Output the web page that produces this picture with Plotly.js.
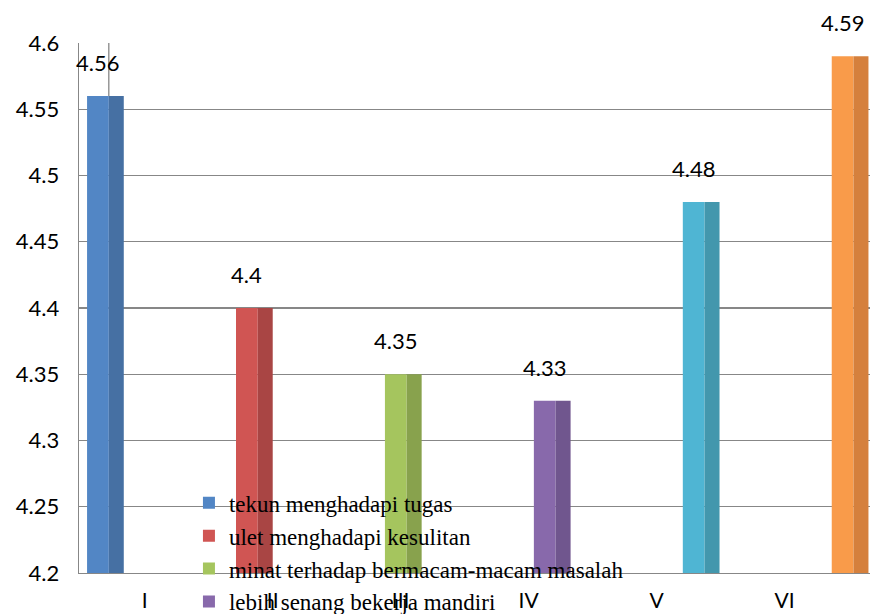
<!DOCTYPE html>
<html>
<head>
<meta charset="utf-8">
<script src="https://cdn.plot.ly/plotly-3.0.1.min.js"></script>
<style>html,body{margin:0;padding:0;background:#fff;}#chart{width:870px;height:614px;}</style>
</head>
<body>
<div id="chart"></div>
<script>
// ---- data ----
const categories = ['I', 'II', 'III', 'IV', 'V', 'VI'];
const seriesNames = [
  'tekun menghadapi tugas',
  'ulet menghadapi kesulitan',
  'minat terhadap bermacam-macam masalah',
  'lebih senang bekerja mandiri',
  'V',
  'VI'
];
const values = [4.56, 4.40, 4.35, 4.33, 4.48, 4.59];
const yTickVals = [4.2, 4.25, 4.3, 4.35, 4.4, 4.45, 4.5, 4.55, 4.6];
const yTickText = ['4.2', '4.25', '4.3', '4.35', '4.4', '4.45', '4.5', '4.55', '4.6'];

// ---- style ----
const lightColors = ['#5286C5', '#D05553', '#A5C55E', '#8869AB', '#4FB5D3', '#F99B4A'];
const darkColors  = ['#4670A3', '#A94544', '#88A24D', '#70568E', '#4397AD', '#D5803D'];
const slotStart = -0.451, slotStep = 0.164, lightW = 0.170, darkW = 0.117;
const gridCol = '#878787';

const traces = [];
const annotations = [];
values.forEach((v, i) => {
  const off = slotStart + i * slotStep;
  traces.push({
    type: 'bar', x: [categories[i]], y: [v], name: seriesNames[i],
    offset: off, width: lightW,
    marker: {color: lightColors[i], line: {width: 0}},
    showlegend: i < 4, hoverinfo: 'skip'
  });
  traces.push({
    type: 'bar', x: [categories[i]], y: [v], name: seriesNames[i],
    offset: off + lightW, width: darkW,
    marker: {color: darkColors[i], line: {width: 0}},
    showlegend: false, hoverinfo: 'skip'
  });
  annotations.push({
    xref: 'x', yref: 'y', x: i + off + lightW / 2, y: v,
    text: String(v), showarrow: false, yanchor: 'bottom', yshift: 18,
    font: {family: 'Lato, sans-serif', size: 22, color: '#000'}
  });
});

const shapes = [{
  type: 'line', xref: 'x', yref: 'y', layer: 'below',
  x0: 0 + slotStart + lightW, x1: 0 + slotStart + lightW,
  y0: values[0], y1: yTickVals[yTickVals.length - 1],
  line: {color: gridCol, width: 1.3}
}];

const layout = {
  width: 870, height: 614,
  margin: {l: 79, r: 0, t: 43, b: 41, autoexpand: false},
  paper_bgcolor: '#fff', plot_bgcolor: '#fff',
  barmode: 'overlay',
  showlegend: true,
  legend: {
    x: 0.139, y: 0.173, xanchor: 'left', yanchor: 'top',
    bgcolor: 'rgba(0,0,0,0)', borderwidth: 0,
    font: {family: '"Liberation Serif", "Times New Roman", serif', size: 23, color: '#000'},
    tracegroupgap: 0
  },
  xaxis: {
    type: 'category', categoryarray: categories, categoryorder: 'array',
    range: [-0.514, 5.668], automargin: false,
    showgrid: false, showline: true, linecolor: gridCol, linewidth: 1.3,
    ticks: '', ticklabelstandoff: 8,
    tickfont: {family: 'Lato, sans-serif', size: 21, color: '#000'},
    fixedrange: true
  },
  yaxis: {
    range: [4.2, 4.6], tickvals: yTickVals, ticktext: yTickText, automargin: false,
    showgrid: true, gridcolor: gridCol, gridwidth: 1.3,
    showline: true, linecolor: gridCol, linewidth: 1.3,
    zeroline: false, ticks: '', ticklabelstandoff: 14,
    tickfont: {family: 'Lato, sans-serif', size: 22, color: '#000'},
    fixedrange: true
  },
  annotations: annotations,
  shapes: shapes
};

Plotly.newPlot('chart', traces, layout, {displayModeBar: false, staticPlot: true});
</script>
</body>
</html>
